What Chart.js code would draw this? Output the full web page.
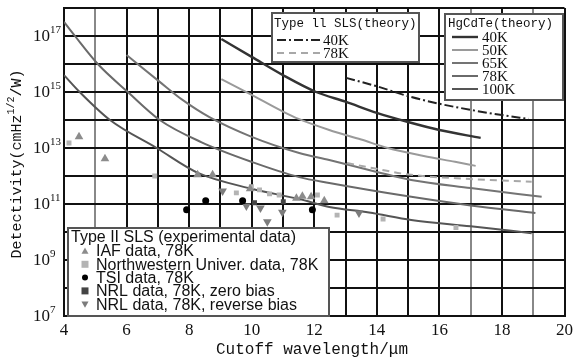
<!DOCTYPE html>
<html>
<head>
<meta charset="utf-8">
<script src="https://cdn.jsdelivr.net/npm/chart.js@4.4.1/dist/chart.umd.min.js"></script>
<style>
  body { margin: 0; background: #fff; }
  canvas { display: block; }
</style>
</head>
<body>
<canvas id="grafica" width="577" height="363"></canvas>
<script>
// ticks
const xTicks = [4, 6, 8, 10, 12, 14, 16, 18, 20]
const yGridExps = [7, 8, 9, 10, 11, 12, 13, 14, 15, 16, 17, 18]
const yLabelExps = [7, 9, 11, 13, 15, 17]

// HgCdTe (theory)
const hgLabels = ['40K', '50K', '65K', '78K', '100K']
const hg40x = [9.03, 10, 11, 12.06, 13, 14, 15, 16, 17.32]
const hg40y = [7.8e16, 1.8e16, 4.0e15, 1.0e15, 4.5e14, 1.8e14, 8.5e13, 4.4e13, 2.3e13]
const hg50x = [9.03, 10, 11, 11.52, 12.48, 13.5, 14.35, 15.5, 16.5, 17.16]
const hg50y = [2.9e15, 7.9e14, 2.0e14, 1.07e14, 4.4e13, 2.0e13, 1.0e13, 5.2e12, 3.2e12, 2.3e12]
const hg65x = [6, 7.06, 7.8, 8.65, 10, 11.52, 12.48, 14, 15.1, 17, 19.27]
const hg65y = [2.1e16, 2.3e15, 5.1e14, 1.26e14, 2.5e13, 6.6e12, 3.7e12, 1.4e12, 7.2e11, 3.7e11, 1.8e11]
const hg78x = [4, 4.35, 5.08, 6.04, 7.06, 8.4, 10, 11.52, 12.48, 15.1, 17, 19.07]
const hg78y = [3.2e17, 1e17, 1e16, 1e15, 1e14, 1.6e13, 3.2e12, 9.1e11, 5.6e11, 1.8e11, 8.9e10, 4.8e10]
const hg100x = [4, 4.5, 5.47, 6.96, 8.3, 10, 11.52, 12.48, 13.75, 15.1, 17, 18.95]
const hg100y = [4.0e15, 1e15, 1e14, 1e13, 1.26e12, 3.5e11, 1.5e11, 7.8e10, 5.0e10, 2.7e10, 1.6e10, 9.1e9]

// Type II SLS (theory)
const slsTitle = 'Type ll SLS(theory)'
const slsLabels = ['40K', '78K']
const sls40x = [13.02, 14, 15, 16, 17, 18, 18.85]
const sls40y = [3.2e15, 1.6e15, 7.1e14, 3.8e14, 2.3e14, 1.5e14, 1.1e14]
const sls78x = [13.05, 14, 15.1, 17, 18.95]
const sls78y = [2.9e12, 1.8e12, 1.1e12, 7.8e11, 6.2e11]

// Type II SLS (experimental data)
const expTitle = 'Type II SLS (experimental data)'
const expLabels = ['IAF data, 78K', 'Northwestern Univer. data, 78K', 'TSI data, 78K', 'NRL data, 78K, zero bias', 'NRL data, 78K, reverse bias']
const iafX = [4.48, 5.31, 8.27, 8.75, 9.95, 11.43, 11.62, 11.9, 12.32]
const iafY = [2.5e13, 4.1e12, 1.1e12, 1.1e12, 3.5e11, 1.6e11, 1.9e11, 1.8e11, 1.3e11]
const nwX = [4.16, 6.9, 9.51, 9.99, 10.25, 10.57, 10.88, 12.1, 12.73, 14.2, 16.53]
const nwY = [1.5e13, 1e12, 2.5e11, 4.1e11, 3.2e11, 2.3e11, 2.1e11, 2.1e11, 4e10, 2.9e10, 1.45e10]
const tsiX = [7.92, 8.53, 9.71, 11.94]
const tsiY = [6.2e10, 1.3e11, 1.3e11, 6.2e10]
const nrlZeroX = [10.09, 11.01]
const nrlZeroY = [1.1e11, 1.2e11]
const nrlRevX = [9.07, 9.83, 10.28, 10.98, 10.5, 13.43]
const nrlRevY = [2.9e11, 8.5e10, 7.2e10, 5.1e10, 2.3e10, 4.8e10]

const xTitle = 'Cutoff wavelength/μm'

const hgColors = ['#333', '#9a9a9a', '#747474', '#6a6a6a', '#555']
const hgWidths = [2.4, 2, 2, 2, 2]
const expStyles = [
    { shape: 'up', color: '#8c8c8c', r: 5 },
    { shape: 'square', color: '#b4b4b4', r: 3.5 },
    { shape: 'circle', color: '#000', r: 3.5 },
    { shape: 'square', color: '#444', r: 3.5 },
    { shape: 'down', color: '#7c7c7c', r: 5 }
]

function puntos(xs, ys) {
    return xs.map((x, i) => ({ x: x, y: ys[i] }))
}

function linea(xs, ys, color, ancho, dash) {
    return {
        type: 'line',
        data: puntos(xs, ys),
        borderColor: color,
        borderWidth: ancho,
        borderDash: dash || [],
        pointRadius: 0,
        fill: false,
        cubicInterpolationMode: 'monotone'
    }
}

function nube(xs, ys, estilo) {
    const chartStyle = { up: 'triangle', down: 'triangle', square: 'rect', circle: 'circle' }
    return {
        type: 'scatter',
        data: puntos(xs, ys),
        pointStyle: chartStyle[estilo.shape],
        rotation: estilo.shape == 'down' ? 180 : 0,
        pointRadius: estilo.r,
        backgroundColor: estilo.color,
        borderColor: estilo.color,
        borderWidth: 0,
        showLine: false
    }
}

function marcador(c, estilo, x, y, r) {
    c.fillStyle = estilo.color
    c.beginPath()
    if (estilo.shape == 'up') {
        c.moveTo(x, y - r); c.lineTo(x + r, y + r * 0.8); c.lineTo(x - r, y + r * 0.8)
    } else if (estilo.shape == 'down') {
        c.moveTo(x, y + r); c.lineTo(x + r, y - r * 0.8); c.lineTo(x - r, y - r * 0.8)
    } else if (estilo.shape == 'square') {
        c.rect(x - r, y - r, 2 * r, 2 * r)
    } else {
        c.arc(x, y, r, 0, Math.PI * 2)
    }
    c.closePath()
    c.fill()
}

function caja(c, x, y, w, h) {
    c.fillStyle = '#fff'
    c.fillRect(x, y, w, h)
    c.strokeStyle = '#555'
    c.lineWidth = 2
    c.setLineDash([])
    c.strokeRect(x, y, w, h)
}

const extras = {
    id: 'extras',
    afterDraw(chart) {
        const c = chart.ctx
        const sy = chart.scales.y
        c.save()
        c.fillStyle = '#111'
        c.textBaseline = 'middle'

        // y tick labels 10^n
        for (const e of yLabelExps) {
            const py = sy.getPixelForValue(Math.pow(10, e))
            c.font = '17px "Liberation Serif"'
            c.textAlign = 'right'
            c.fillText('10', 50, py + 1)
            c.font = '11px "Liberation Serif"'
            c.textAlign = 'left'
            c.fillText(String(e), 50, py - 6)
        }

        // axis titles
        c.font = '16px "Liberation Mono"'
        c.textAlign = 'center'
        c.fillText(xTitle, 312, 350)

        c.save()
        c.translate(17, 164)
        c.rotate(-Math.PI / 2)
        const p1 = 'Detectivity(cmHz', p2 = '1/2', p3 = '/W)'
        c.font = '15px "Liberation Mono"'
        const w1 = c.measureText(p1).width, w3 = c.measureText(p3).width
        c.font = '10px "Liberation Mono"'
        const w2 = c.measureText(p2).width
        let px = -(w1 + w2 + w3) / 2
        c.textAlign = 'left'
        c.font = '15px "Liberation Mono"'
        c.fillText(p1, px, 0)
        c.font = '10px "Liberation Mono"'
        c.fillText(p2, px + w1, -6)
        c.font = '15px "Liberation Mono"'
        c.fillText(p3, px + w1 + w2, 0)
        c.restore()

        // Type II SLS (theory) box
        caja(c, 272, 13, 147, 49)
        c.fillStyle = '#111'
        c.textAlign = 'left'
        c.font = '12.5px "Liberation Mono"'
        c.fillText(slsTitle, 274, 24)
        const slsDash = [[9, 3, 2, 3], [7, 5]]
        const slsColor = ['#222', '#a8a8a8']
        slsLabels.forEach((t, i) => {
            const yy = 40 + i * 13
            c.strokeStyle = slsColor[i]
            c.lineWidth = 2
            c.setLineDash(slsDash[i])
            c.beginPath(); c.moveTo(277, yy); c.lineTo(320, yy); c.stroke()
            c.setLineDash([])
            c.fillStyle = '#111'
            c.font = '15px "Liberation Serif"'
            c.fillText(t, 323, yy + 1)
        })

        // HgCdTe (theory) box
        caja(c, 445, 14, 118, 86)
        c.fillStyle = '#111'
        c.font = '12.5px "Liberation Mono"'
        c.fillText('HgCdTe(theory)', 448, 24)
        hgLabels.forEach((t, i) => {
            const yy = 37 + i * 13
            c.strokeStyle = hgColors[i]
            c.lineWidth = hgWidths[i]
            c.beginPath(); c.moveTo(452, yy); c.lineTo(478, yy); c.stroke()
            c.fillStyle = '#111'
            c.font = '15px "Liberation Serif"'
            c.fillText(t, 482, yy + 1)
        })

        // experimental data box
        caja(c, 68, 228, 261, 88)
        c.fillStyle = '#111'
        c.font = '16px "Liberation Sans"'
        c.fillText(expTitle, 71, 238)
        expLabels.forEach((t, i) => {
            const yy = 251 + i * 13.3
            marcador(c, expStyles[i], 85, yy, expStyles[i].shape == 'circle' ? 3 : 3.5)
            c.fillStyle = '#111'
            c.font = '16px "Liberation Sans"'
            c.fillText(t, 96, yy + 1)
        })
        c.restore()
    }
}

function chartConfig() {
    const datasets = [
        nube(tsiX, tsiY, expStyles[2]),
        nube(nrlZeroX, nrlZeroY, expStyles[3]),
        nube(nrlRevX, nrlRevY, expStyles[4]),
        nube(iafX, iafY, expStyles[0]),
        nube(nwX, nwY, expStyles[1]),
        linea(sls40x, sls40y, '#222', 2, [9, 3, 2, 3]),
        linea(sls78x, sls78y, '#a8a8a8', 2, [7, 5]),
        linea(hg40x, hg40y, hgColors[0], hgWidths[0]),
        linea(hg50x, hg50y, hgColors[1], hgWidths[1]),
        linea(hg65x, hg65y, hgColors[2], hgWidths[2]),
        linea(hg78x, hg78y, hgColors[3], hgWidths[3]),
        linea(hg100x, hg100y, hgColors[4], hgWidths[4])
    ]
    return {
        type: 'line',
        data: { datasets: datasets },
        options: {
            responsive: false,
            animation: false,
            events: [],
            layout: { padding: { top: 8, right: 11, left: 0, bottom: 0 } },
            plugins: { legend: { display: false }, tooltip: { enabled: false } },
            scales: {
                x: {
                    type: 'linear',
                    min: 4,
                    max: 20,
                    ticks: {
                        stepSize: 1,
                        autoSkip: false,
                        maxRotation: 0,
                        padding: 4,
                        color: '#111',
                        font: { family: 'Liberation Serif', size: 17 },
                        callback: v => xTicks.includes(v) ? String(v) : ''
                    },
                    grid: {
                        drawTicks: false,
                        lineWidth: 2,
                        color: ctx => [5, 17, 19].includes(ctx.tick.value) ? '#888' : '#111'
                    },
                    border: { color: '#111', width: 2 },
                    afterFit: s => { s.height = 47 }
                },
                y: {
                    type: 'logarithmic',
                    min: 1e7,
                    max: 1e18,
                    afterBuildTicks: axis => {
                        axis.ticks = yGridExps.map(e => ({ value: Math.pow(10, e) }))
                    },
                    ticks: { display: false },
                    grid: { drawTicks: false, lineWidth: 2, color: '#111' },
                    border: { color: '#111', width: 2 },
                    afterFit: s => { s.width = 64 }
                }
            }
        },
        plugins: [extras]
    }
}

function renderGrafica() {
    const chartDOM = document.getElementById('grafica')
    new Chart(chartDOM, chartConfig())
}

renderGrafica()
</script>
</body>
</html>
